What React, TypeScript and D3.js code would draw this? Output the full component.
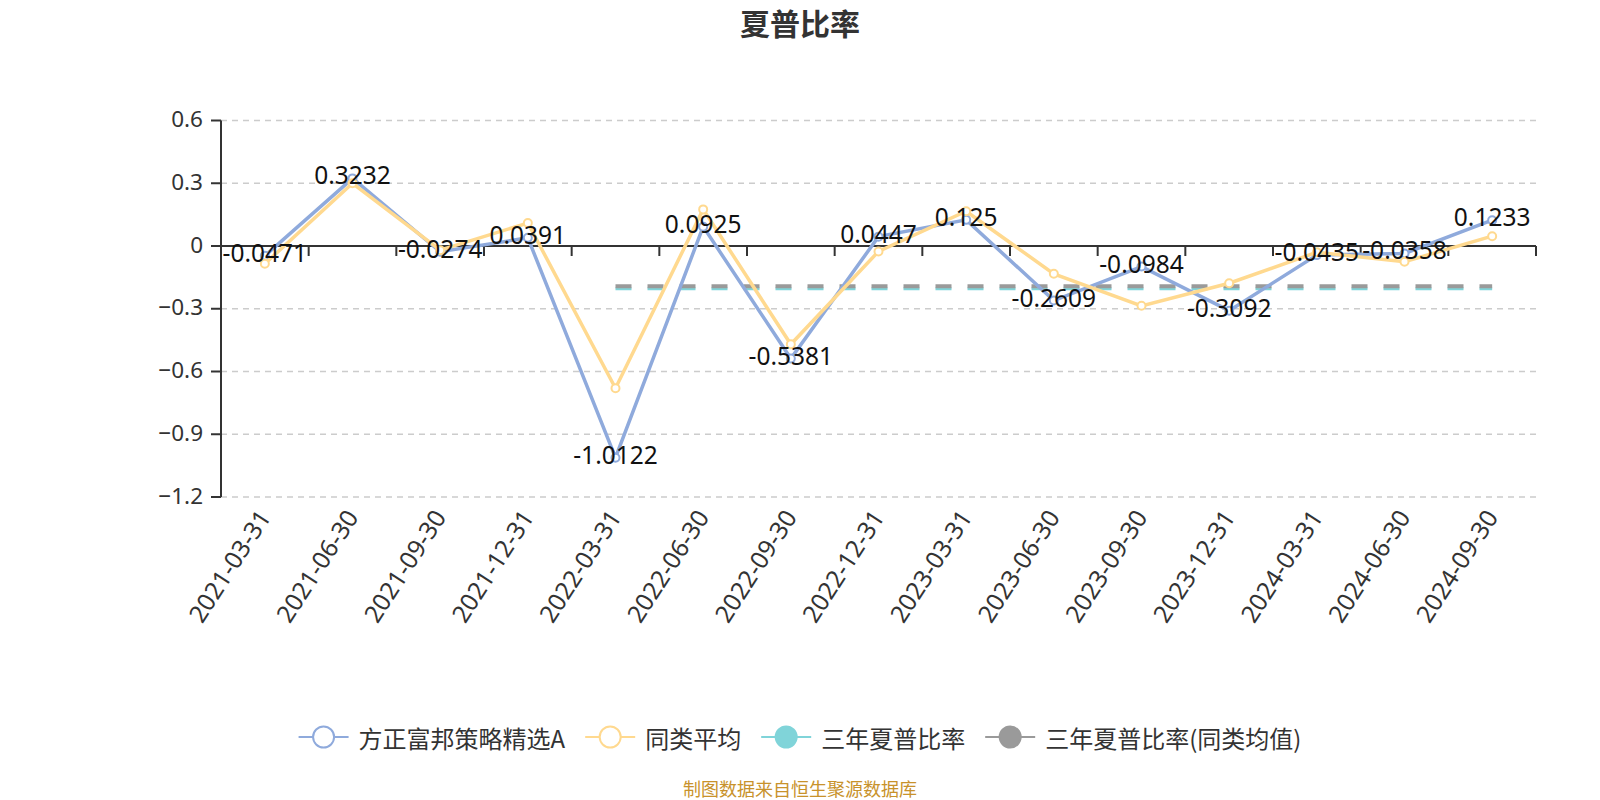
import React, { useRef, useEffect } from 'react';
import * as d3 from 'd3';

// Report dates
const dates = [
  '2021-03-31', '2021-06-30', '2021-09-30', '2021-12-31',
  '2022-03-31', '2022-06-30', '2022-09-30', '2022-12-31',
  '2023-03-31', '2023-06-30', '2023-09-30', '2023-12-31',
  '2024-03-31', '2024-06-30', '2024-09-30',
];

// 方正富邦策略精选A
const fundValues = [
  -0.0471, 0.3232, -0.0274, 0.0391, -1.0122, 0.0925, -0.5381, 0.0447,
  0.125, -0.2609, -0.0984, -0.3092, -0.0435, -0.0358, 0.1233,
];

// 同类平均
const peerValues = [
  -0.085, 0.3, -0.02, 0.11, -0.68, 0.175, -0.47, -0.026,
  0.166, -0.133, -0.286, -0.178, -0.03, -0.075, 0.047,
];

// 三年夏普比率 / 同类均值 (flat reference lines from 2022-03-31)
const threeYearStart = '2022-03-31';
const threeYearEnd = '2024-09-30';
const threeYearFund = -0.204;
const threeYearPeer = -0.193;

const yTicks = [0.6, 0.3, 0, -0.3, -0.6, -0.9, -1.2];

const legendNames = ['方正富邦策略精选A', '同类平均', '三年夏普比率', '三年夏普比率(同类均值)'];

const BLUE = '#8FAADC';
const YELLOW = '#FFD98F';
const TEAL = '#80D4D9';
const GREY = '#9A9A9A';

const W = 1600;
const H = 800;

const App: React.FC = () => {
  const svgRef = useRef<SVGSVGElement>(null);

  useEffect(() => {
    if (!svgRef.current) return;
    const svg = d3.select(svgRef.current);
    svg.selectAll('*').remove();

    const left = 221;
    const right = 1536;
    const x = d3.scaleBand<string>().domain(dates).range([left, right]);
    const y = d3.scaleLinear().domain([-1.2, 0.6]).range([497, 120.5]);
    const cx = (d: string) => (x(d) as number) + x.bandwidth() / 2;
    const numFont = '"Noto Sans", sans-serif';
    const cjkFont = '"Noto Sans CJK SC", sans-serif';

    // Title
    svg.append('text')
      .attr('x', W / 2)
      .attr('y', 22)
      .attr('text-anchor', 'middle')
      .attr('dominant-baseline', 'central')
      .style('font-family', cjkFont)
      .style('font-size', '30px')
      .style('font-weight', 'bold')
      .style('fill', '#333')
      .text('夏普比率');

    // Grid lines
    svg.append('g')
      .selectAll('line')
      .data(yTicks.filter((t) => t !== 0))
      .enter().append('line')
      .attr('x1', left)
      .attr('x2', right)
      .attr('y1', (d) => y(d))
      .attr('y2', (d) => y(d))
      .attr('stroke', '#ccc')
      .attr('stroke-width', 1.5)
      .attr('stroke-dasharray', '6,5');

    // Y axis
    const yAxis = svg.append('g');
    yAxis.append('line')
      .attr('x1', left).attr('x2', left)
      .attr('y1', y(0.6)).attr('y2', y(-1.2))
      .attr('stroke', '#333').attr('stroke-width', 2);
    yAxis.selectAll('.tick')
      .data(yTicks)
      .enter().append('line')
      .attr('x1', left - 10).attr('x2', left)
      .attr('y1', (d) => y(d)).attr('y2', (d) => y(d))
      .attr('stroke', '#333').attr('stroke-width', 2);
    yAxis.selectAll('text')
      .data(yTicks)
      .enter().append('text')
      .attr('x', left - 18)
      .attr('y', (d) => y(d) - 2)
      .attr('text-anchor', 'end')
      .attr('dominant-baseline', 'central')
      .style('font-family', numFont)
      .style('font-size', '22.5px')
      .style('fill', '#333')
      .text((d) => (d === 0 ? '0' : d3.format('.1f')(d)));

    // X axis on zero
    const xAxis = svg.append('g');
    xAxis.append('line')
      .attr('x1', left).attr('x2', right)
      .attr('y1', y(0)).attr('y2', y(0))
      .attr('stroke', '#333').attr('stroke-width', 2);
    const boundaries = dates.map((d) => x(d) as number).concat([right]);
    xAxis.selectAll('.tick')
      .data(boundaries)
      .enter().append('line')
      .attr('x1', (d) => d).attr('x2', (d) => d)
      .attr('y1', y(0)).attr('y2', y(0) + 10)
      .attr('stroke', '#333').attr('stroke-width', 2);

    // X labels at bottom, rotated
    svg.append('g')
      .selectAll('text')
      .data(dates)
      .enter().append('text')
      .attr('transform', (d) => `translate(${cx(d) - 1},${y(-1.2) + 15}) rotate(-57)`)
      .attr('text-anchor', 'end')
      .attr('dominant-baseline', 'central')
      .style('font-family', numFont)
      .style('font-size', '24.5px')
      .style('fill', '#333')
      .text((d) => d);

    // Three-year reference lines
    const refLine = (value: number, color: string, width: number) => {
      svg.append('line')
        .attr('x1', cx(threeYearStart))
        .attr('x2', cx(threeYearEnd))
        .attr('y1', y(value))
        .attr('y2', y(value))
        .attr('stroke', color)
        .attr('stroke-width', width)
        .attr('stroke-dasharray', '16,16');
    };
    refLine(threeYearFund, TEAL, 3);
    refLine(threeYearPeer, GREY, 4);

    // Series lines
    const line = d3.line<number>()
      .x((_d, i) => cx(dates[i]))
      .y((d) => y(d));

    const drawSeries = (values: number[], color: string) => {
      svg.append('path')
        .datum(values)
        .attr('d', line)
        .attr('fill', 'none')
        .attr('stroke', color)
        .attr('stroke-width', 3.5)
        .attr('stroke-linejoin', 'miter')
        .attr('stroke-miterlimit', 10);
      svg.append('g')
        .selectAll('circle')
        .data(values)
        .enter().append('circle')
        .attr('cx', (_d, i) => cx(dates[i]))
        .attr('cy', (d) => y(d))
        .attr('r', 4)
        .attr('fill', '#fff')
        .attr('stroke', color)
        .attr('stroke-width', 2);
    };
    drawSeries(fundValues, BLUE);
    drawSeries(peerValues, YELLOW);

    // Data labels for fund
    svg.append('g')
      .selectAll('text')
      .data(fundValues)
      .enter().append('text')
      .attr('x', (_d, i) => cx(dates[i]))
      .attr('y', (d) => y(d) - 3.5)
      .attr('text-anchor', 'middle')
      .attr('dominant-baseline', 'central')
      .style('font-family', numFont)
      .style('font-size', '24.5px')
      .style('fill', '#111')
      .text((d) => String(d));

    // Legend, centred
    const legendColors = [BLUE, YELLOW, TEAL, GREY];
    const legendFilled = [false, false, true, true];
    const legendY = 737;
    const legend = svg.append('g');
    const items = legendNames.map((name, i) => {
      const g = legend.append('g');
      g.append('line')
        .attr('x1', 0).attr('x2', 50)
        .attr('y1', legendY).attr('y2', legendY)
        .attr('stroke', legendColors[i]).attr('stroke-width', 2);
      g.append('circle')
        .attr('cx', 25).attr('cy', legendY).attr('r', 10.5)
        .attr('fill', legendFilled[i] ? legendColors[i] : '#fff')
        .attr('stroke', legendColors[i]).attr('stroke-width', 2);
      const t = g.append('text')
        .attr('x', 60)
        .attr('y', legendY)
        .attr('dominant-baseline', 'central')
        .style('font-family', cjkFont)
        .style('font-size', '24px')
        .style('fill', '#333')
        .text(name);
      const tw = (t.node() as SVGTextElement).getComputedTextLength();
      return { g, width: 60 + tw };
    });
    const gap = 20;
    const total = d3.sum(items, (d) => d.width) + gap * (items.length - 1);
    let pos = W / 2 - total / 2;
    items.forEach((it) => {
      it.g.attr('transform', `translate(${pos},0)`);
      pos += it.width + gap;
    });

    // Footer
    svg.append('text')
      .attr('x', W / 2)
      .attr('y', 788)
      .attr('text-anchor', 'middle')
      .attr('dominant-baseline', 'central')
      .style('font-family', cjkFont)
      .style('font-size', '18px')
      .style('fill', '#C8922B')
      .text('制图数据来自恒生聚源数据库');
  }, []);

  return (
    <svg
      ref={svgRef}
      width={W}
      height={H}
      style={{ position: 'absolute', left: 0, top: 0, background: '#fff' }}
    />
  );
};

export default App;
